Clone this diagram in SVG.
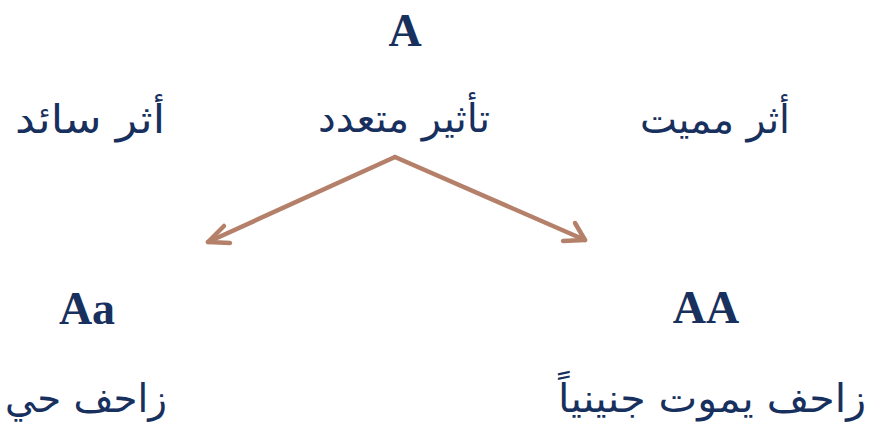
<svg xmlns="http://www.w3.org/2000/svg" width="874" height="426" viewBox="0 0 874 426">
<style>
.lat{font-family:"Liberation Serif","DejaVu Serif",serif;font-weight:bold;fill:#17305e;text-anchor:middle}
.ar{font-family:"DejaVu Sans",sans-serif;fill:#17305e;text-anchor:middle;font-size:39px}
.con{stroke:#b5806a;stroke-width:4.5;fill:none;stroke-linecap:round;stroke-linejoin:round}
</style>
<rect width="874" height="426" fill="#ffffff"/>
<g id="node-A"><text class="lat" x="405" y="46" font-size="46">A</text></g>
<g id="node-dominant"><text class="ar" x="90" y="133" direction="rtl" textLength="150" lengthAdjust="spacingAndGlyphs">أثر سائد</text></g>
<g id="node-pleiotropy"><text class="ar" x="404" y="132" direction="rtl" textLength="172" lengthAdjust="spacingAndGlyphs">تأثير متعدد</text></g>
<g id="node-lethal"><text class="ar" x="715" y="133" direction="rtl" textLength="150" lengthAdjust="spacingAndGlyphs">أثر مميت</text></g>
<g id="node-Aa"><text class="lat" x="87" y="324" font-size="46">Aa</text><text class="ar" x="86" y="412" direction="rtl" textLength="162" lengthAdjust="spacingAndGlyphs">زاحف حي</text></g>
<g id="node-AA"><text class="lat" x="706" y="323" font-size="46">AA</text><text class="ar" x="712" y="412" direction="rtl" textLength="308" lengthAdjust="spacingAndGlyphs">زاحف يموت جنينياً</text></g>
<g id="connectors">
<path class="con" d="M395 157 L208 242"/>
<path class="con" d="M224 226 L208 242 L230 243"/>
<path class="con" d="M395 157 L585 240"/>
<path class="con" d="M575 223 L585 240 L563 241"/>
</g>
</svg>
